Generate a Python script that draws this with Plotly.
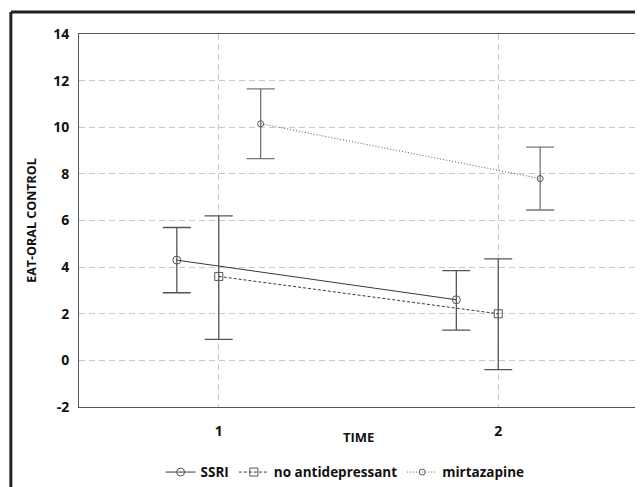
import plotly.graph_objects as go

series = ["SSRI", "no antidepressant", "mirtazapine"]
x_pos = {"SSRI": [0.85, 1.85], "no antidepressant": [1.0, 2.0], "mirtazapine": [1.15, 2.15]}
means = {"SSRI": [4.3, 2.6], "no antidepressant": [3.6, 2.0], "mirtazapine": [10.15, 7.8]}
upper = {"SSRI": [5.7, 3.85], "no antidepressant": [6.2, 4.35], "mirtazapine": [11.65, 9.15]}
lower = {"SSRI": [2.9, 1.3], "no antidepressant": [0.9, -0.4], "mirtazapine": [8.65, 6.45]}
x_ticks = [1, 2]
y_ticks = [-2, 0, 2, 4, 6, 8, 10, 12, 14]

styles = {
    "SSRI": dict(dash="solid", color="#3a3a3a", ecolor="#555555", symbol="circle-open", size=8),
    "no antidepressant": dict(dash="3px,2px", color="#3a3a3a", ecolor="#555555", symbol="square-open", size=8),
    "mirtazapine": dict(dash="1px,2px", color="#555555", ecolor="#777777", symbol="circle-open", size=6),
}

fig = go.Figure()
for s in series:
    st = styles[s]
    m = means[s]
    fig.add_trace(go.Scatter(
        x=x_pos[s], y=m, name=s, mode="lines+markers",
        line=dict(color=st["color"], width=1, dash=st["dash"]),
        marker=dict(symbol=st["symbol"], size=st["size"], color="#555555",
                    line=dict(width=1, color="#555555")),
        error_y=dict(type="data", symmetric=False,
                     array=[u - v for u, v in zip(upper[s], m)],
                     arrayminus=[v - l for v, l in zip(m, lower[s])],
                     color=st["ecolor"], thickness=1.3, width=14),
    ))

font_family = "Open Sans"
ink = "#111111"
tickf = dict(size=14, family=font_family, weight="bold", color=ink)
legf = dict(size=13.5, family=font_family, weight="bold", color=ink)
fig.update_layout(
    width=635, height=487,
    margin=dict(l=71, r=5, t=26, b=88),
    paper_bgcolor="white", plot_bgcolor="white",
    font=dict(family=font_family, color=ink),
    showlegend=True,
    legend=dict(orientation="h", x=0.476, xanchor="center", y=-0.175, yanchor="middle",
                font=legf, itemwidth=30),
    xaxis=dict(range=[0.5, 2.5], tickvals=x_ticks, ticktext=[str(t) for t in x_ticks],
               showgrid=True, gridcolor="#c8c8c8", griddash="6px,4px", gridwidth=1,
               zeroline=False, showline=True, linecolor="#555555", mirror=True,
               ticks="", ticklabelstandoff=11, tickfont=tickf),
    yaxis=dict(range=[-2, 14], tickvals=y_ticks, ticktext=[str(t) for t in y_ticks],
               showgrid=True, gridcolor="#c8c8c8", griddash="6px,4px", gridwidth=1,
               zeroline=False, showline=True, linecolor="#555555", mirror=True,
               ticks="", ticklabelstandoff=6, tickfont=tickf,
               title=dict(text="EAT-ORAL CONTROL", standoff=13,
                          font=dict(size=12.5, family=font_family, weight="bold", color=ink))),
)

fig.add_annotation(text="TIME", xref="paper", yref="paper", x=0.5, y=-0.08,
                   xanchor="center", yanchor="middle", showarrow=False,
                   font=dict(size=13, family=font_family, weight="bold", color=ink))

# outer frame (left and top edges visible)
fig.add_shape(type="line", xref="paper", yref="paper", x0=-0.1219, x1=1.03, y0=1.059, y1=1.059,
              line=dict(color="#222222", width=3))
fig.add_shape(type="line", xref="paper", yref="paper", x0=-0.1219, x1=-0.1219, y0=1.059, y1=-0.3,
              line=dict(color="#222222", width=3))

fig.write_html("out.html")
